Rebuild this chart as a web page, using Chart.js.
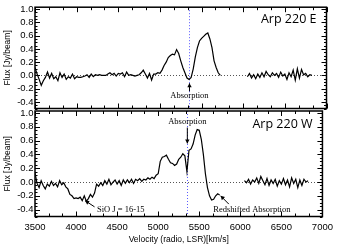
<!DOCTYPE html>
<html><head><meta charset="utf-8">
<script src="https://cdn.jsdelivr.net/npm/chart.js@4"></script>
<style>
html,body{margin:0;padding:0;background:#fff;}
#wrap{position:relative;width:338px;height:248px;overflow:hidden;}
canvas{position:absolute;left:0;top:0;}
</style></head><body>
<div id="wrap"><canvas id="cE" width="338" height="248"></canvas><canvas id="cW" width="338" height="248"></canvas></div>
<script>
// ---- data ----
const chanWidth = 25;          // km/s per channel
const velStartLow = 3500;
const velStartHigh = 6050;
const fluxE_low = [
 0.12,0.02,-0.06,-0.15,-0.08,-0.03,0.05,-0.04,0.03,-0.05,
 -0.02,-0.08,0.04,-0.03,0.02,-0.06,-0.02,-0.04,0.02,-0.05,
 -0.02,-0.03,-0.03,-0.02,-0.01,0.01,-0.03,0.02,-0.02,0.01,
 0.0,0.01,0.0,0.0,0.0,0.02,0.04,0.01,0.03,-0.01,
 0.03,0.02,0.04,-0.02,0.05,0.0,0.01,0.0,-0.01,0.0,
 0.01,0.04,0.08,0.02,-0.04,0.03,-0.07,0.02,0.02,0.04,
 0.03,0.08,0.15,0.2,0.27,0.3,0.32,0.31,0.39,0.33,
 0.22,0.12,0.04,-0.04,-0.06,-0.03,0.1,0.28,0.42,0.52,
 0.56,0.59,0.62,0.64,0.55,0.42,0.22,0.12,0.04,0.0
];
const fluxE_high = [
 -0.02,0.03,-0.04,0.01,-0.05,0.02,-0.03,0.04,-0.02,0.06,
 0.01,-0.02,0.04,0.0,0.03,-0.03,0.05,-0.01,0.02,-0.06,
 0.04,-0.02,0.08,-0.07,0.1,-0.04,0.09,0.01,0.03,-0.02,
 0.01,0.0
];
const fluxW_low = [
 0.13,-0.02,-0.08,0.02,-0.05,-0.1,-0.03,-0.06,0.01,-0.05,
 -0.02,-0.07,0.02,-0.04,-0.01,-0.07,-0.1,-0.18,-0.2,-0.24,
 -0.23,-0.24,-0.22,-0.27,-0.2,-0.28,-0.24,-0.18,-0.22,-0.16,
 -0.03,-0.06,-0.01,-0.05,0.02,-0.03,0.04,-0.04,0.0,0.03,
 -0.03,0.02,-0.05,0.03,-0.02,0.03,-0.01,0.04,-0.02,0.04,
 0.02,0.05,0.01,0.04,0.03,0.06,0.04,0.07,0.05,0.1,
 0.12,0.3,0.36,0.37,0.39,0.33,0.28,0.27,0.24,0.26,
 0.33,0.36,0.41,0.38,0.15,0.46,0.48,0.55,0.68,0.76,
 0.75,0.62,0.4,0.12,-0.08,-0.2,-0.26,-0.25,-0.2,-0.17,
 -0.19
];
const fluxW_high = [
 0.02,-0.01,0.04,-0.03,0.03,0.0,0.06,-0.02,0.08,0.02,
 -0.04,0.05,-0.05,0.03,-0.02,0.04,-0.06,0.02,-0.03,0.05,
 -0.04,0.03,-0.07,0.06,-0.02,0.04,-0.08,0.03,-0.05,0.04,
 0.0,0.02
];
const xRange = [3500, 7000];
const yRange = [-0.5, 1.03];
const xMajorStep = 500;
const xMinorPerMajor = 3;
const yMajorStep = 0.2;
const yMinorStep = 0.05;
const absorptionVel = 5355;

function toPoints(start, arr){ return arr.map((f,i)=>({x:start+i*chanWidth, y:f})); }

// ---- decoration plugin ----
function arrow(ctx, x1,y1,x2,y2){
  ctx.beginPath(); ctx.moveTo(x1,y1); ctx.lineTo(x2,y2); ctx.stroke();
  const a=Math.atan2(y2-y1,x2-x1), L=4, W=2.2;
  ctx.beginPath();
  ctx.moveTo(x2,y2);
  ctx.lineTo(x2-L*Math.cos(a)+W*Math.sin(a), y2-L*Math.sin(a)-W*Math.cos(a));
  ctx.lineTo(x2-L*Math.cos(a)-W*Math.sin(a), y2-L*Math.sin(a)+W*Math.cos(a));
  ctx.closePath(); ctx.fill();
}
const decor = {
  id:'decor',
  beforeDatasetsDraw(chart, args, opts){
    const {ctx, chartArea:a, scales:{x,y}} = chart;
    ctx.save();
    ctx.lineWidth=1; ctx.strokeStyle='#555'; ctx.setLineDash([1,2]);
    const y0=Math.round(y.getPixelForValue(0))+0.5;
    ctx.beginPath(); ctx.moveTo(a.left,y0); ctx.lineTo(a.right,y0); ctx.stroke();
    ctx.strokeStyle='#5b5bff';
    const xv=Math.round(x.getPixelForValue(absorptionVel))+0.5;
    ctx.beginPath(); ctx.moveTo(xv,a.top); ctx.lineTo(xv,a.bottom); ctx.stroke();
    ctx.restore();
  },
  afterDatasetsDraw(chart, args, opts){
    const {ctx, chartArea:a, scales:{x,y}} = chart;
    ctx.save();
    ctx.strokeStyle='#000'; ctx.lineWidth=1.5;
    ctx.strokeRect(a.left, a.top, a.right-a.left, a.bottom-a.top);
    ctx.lineWidth=1;
    const xm = xMajorStep/xMinorPerMajor;
    for(let k=0; xRange[0]+k*xm<=xRange[1]+1e-6; k++){
      const px=Math.round(x.getPixelForValue(xRange[0]+k*xm))+0.5;
      const len=(k%xMinorPerMajor===0)?5:3;
      ctx.beginPath();
      ctx.moveTo(px,a.top); ctx.lineTo(px,a.top+len);
      ctx.moveTo(px,a.bottom); ctx.lineTo(px,a.bottom-len);
      ctx.stroke();
    }
    for(let k=0; -0.5+k*yMinorStep<=1.0+1e-6; k++){
      const v=-0.5+k*yMinorStep;
      if(v<yRange[0]-1e-6||v>yRange[1]) continue;
      const py=Math.round(y.getPixelForValue(v))+0.5;
      const isMaj=Math.abs(Math.round(v/yMajorStep)*yMajorStep-v)<1e-6;
      const len=isMaj?5:2.5;
      ctx.beginPath();
      ctx.moveTo(a.left,py); ctx.lineTo(a.left+len,py);
      ctx.moveTo(a.right,py); ctx.lineTo(a.right-len,py);
      ctx.stroke();
    }
    // panel label
    ctx.fillStyle='#000';
    ctx.font='12.5px "Open Sans"';
    ctx.textAlign='right'; ctx.textBaseline='middle';
    ctx.fillText(opts.label, x.getPixelForValue(opts.labelPos[0]), y.getPixelForValue(opts.labelPos[1]));
    // notes
    ctx.font='8.5px "Liberation Serif"';
    ctx.lineWidth=1;
    for(const n of opts.notes){
      ctx.textAlign=n.align; ctx.textBaseline='middle';
      ctx.fillText(n.text, x.getPixelForValue(n.at[0]), y.getPixelForValue(n.at[1]));
      arrow(ctx, x.getPixelForValue(n.from[0]), y.getPixelForValue(n.from[1]),
                 x.getPixelForValue(n.to[0]), y.getPixelForValue(n.to[1]));
    }
    ctx.restore();
  }
};

const tickFont = {family:'"Liberation Sans", Arial, sans-serif', size:9.5};
function makeChart(id, datasetsData, showX, padding, decorOpts){
  return new Chart(document.getElementById(id), {
    type:'line',
    data:{datasets: datasetsData.map(d=>({
      data:d, borderColor:'#000', borderWidth:1.2, pointRadius:0,
      stepped:false, fill:false, tension:0
    }))},
    options:{
      responsive:false, animation:false, devicePixelRatio:1,
      layout:{padding},
      plugins:{legend:{display:false}, tooltip:{enabled:false}, decor:decorOpts},
      scales:{
        x:{type:'linear', min:xRange[0], max:xRange[1], display:showX,
           grid:{display:false, drawTicks:false}, border:{display:false},
           ticks:{stepSize:xMajorStep, color:'#000', font:tickFont, padding:5, maxRotation:0,
                  callback:v=>String(v)},
           title:{display:showX, text:'Velocity (radio, LSR)[km/s]', color:'#000',
                  font:{family:'"Liberation Sans", Arial, sans-serif', size:8.5}, padding:{top:0,bottom:3}},
           afterFit:s=>{s.height=showX?31.5:0;}},
        y:{min:yRange[0], max:yRange[1],
           grid:{display:false, drawTicks:false}, border:{display:false},
           ticks:{stepSize:yMajorStep, includeBounds:false, color:'#000', font:tickFont, padding:1.5,
                  callback:v=>Math.abs(v)<1e-9?'0.0':v.toFixed(1)},
           title:{display:true, text:'Flux [Jy/beam]', color:'#000',
                  font:{family:'"Liberation Sans", Arial, sans-serif', size:8.5}, padding:{top:3,bottom:0}},
           afterFit:s=>{s.width=35;}}
      }
    },
    plugins:[decor]
  });
}

makeChart('cE', [toPoints(velStartLow, fluxE_low), toPoints(velStartHigh, fluxE_high)], false,
  {left:0, right:11.5, top:3, bottom:139.5},
  {label:'Arp 220 E', labelPos:[6880, 0.845],
   notes:[{text:'Absorption', align:'center', at:[absorptionVel,-0.31], from:[absorptionVel,-0.24], to:[absorptionVel,-0.12]}]});

makeChart('cW', [toPoints(velStartLow, fluxW_low), toPoints(velStartHigh, fluxW_high)], true,
  {left:0, right:11.5, top:111, bottom:0},
  {label:'Arp 220 W', labelPos:[6880, 0.83],
   notes:[
    {text:'Absorption', align:'center', at:[absorptionVel,0.87], from:[absorptionVel,0.79], to:[absorptionVel,0.56]},
    {text:'SiO J = 16-15', align:'left', at:[4255,-0.405], from:[4225,-0.36], to:[4110,-0.27]},
    {text:'Redshifted Absorption', align:'left', at:[5670,-0.4], from:[5860,-0.32], to:[5760,-0.2]}
   ]});
</script>
</body></html>
